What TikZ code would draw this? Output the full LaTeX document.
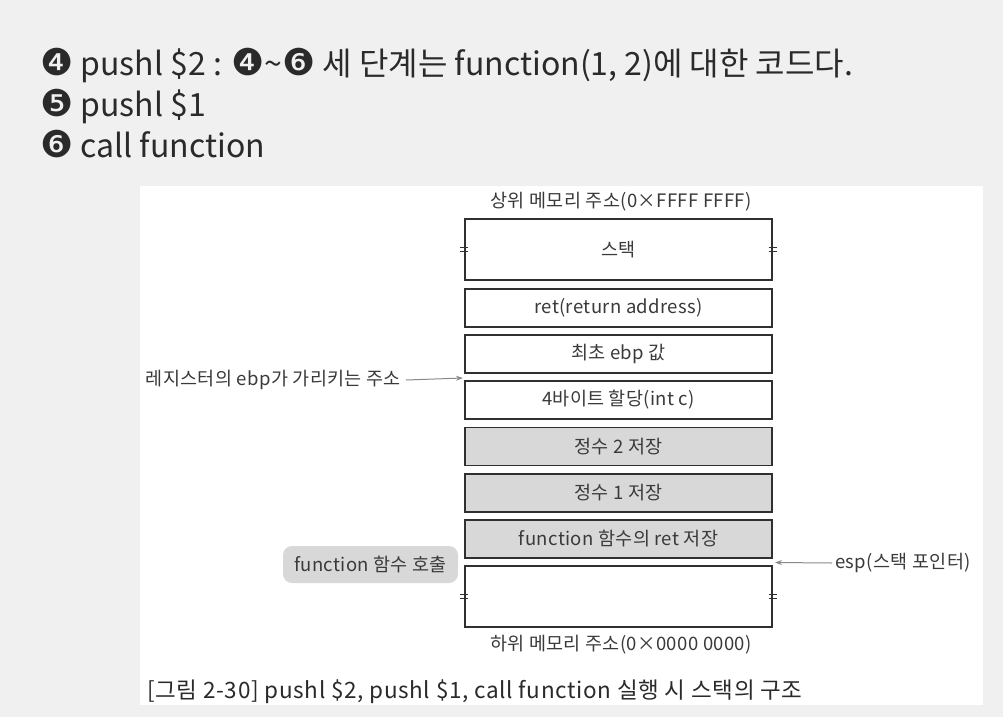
\documentclass[tikz,border=0pt]{standalone}
\usepackage{fontspec}
\setmainfont{Noto Sans CJK KR}
\newfontfamily\dingfont{DejaVu Sans}
\newcommand{\dg}[1]{{\dingfont\fontsize{37}{37}\selectfont\raisebox{-0.5pt}{#1}}}
\usetikzlibrary{arrows.meta}
\definecolor{bgc}{HTML}{F0F0F0}
\definecolor{txt}{HTML}{2A2A2A}
\definecolor{dtxt}{HTML}{3A3A3A}
\definecolor{bline}{HTML}{303030}
\definecolor{gfill}{HTML}{D8D8D8}
\definecolor{agray}{HTML}{8A8A8A}
\tikzset{
  stackbox/.style={draw=bline, line width=1.3pt, minimum width=307pt, minimum height=38pt, inner sep=0pt, text=dtxt, font=\fontsize{18.5}{20}\selectfont\addfontfeature{LetterSpace=2}},
  grayfill/.style={fill=gfill},
  tallbox/.style={minimum height=61pt},
  lbl/.style={text=dtxt, inner sep=0pt, font=\fontsize{18.5}{20}\selectfont\addfontfeature{LetterSpace=2}},
  topline/.style={anchor=base west, inner sep=0pt, text=txt, font=\fontsize{32}{36}\selectfont},
  brk/.style={draw=bline, line width=0.8pt},
  ptr/.style={draw=agray, line width=1pt, -{Stealth[length=7pt,width=5pt]}}
}
\begin{document}
\begin{tikzpicture}[x=1pt,y=-1pt]
\fill[bgc] (0,0) rectangle (1003,717);
\useasboundingbox (0,0) rectangle (1003,717);
\fill[white] (140,186) rectangle (983,705);
% top text
\node[topline] (l1) at (40,75) {\dg{❹} pushl \$2 : \dg{❹}\textasciitilde\dg{❻} 세 단계는 function(1, 2)에 대한 코드다.};
\node[topline] (l2) at (40,116) {\dg{❺} pushl \$1};
\node[topline] (l3) at (40,157) {\dg{❻} call function};
% stack
\node[stackbox,tallbox] (s1) at (618.5,249.5) {스택};
\node[stackbox] (s2) at (618.5,308) {ret(return address)};
\node[stackbox] (s3) at (618.5,354) {최초 ebp 값};
\node[stackbox] (s4) at (618.5,400) {4바이트 할당(int c)};
\node[stackbox,grayfill] (s5) at (618.5,446.5) {정수 2 저장};
\node[stackbox,grayfill] (s6) at (618.5,493) {정수 1 저장};
\node[stackbox,grayfill] (s7) at (618.5,539) {function 함수의 ret 저장};
\node[stackbox,tallbox] (s8) at (618.5,596.5) {};
% break ticks
\foreach \n in {s1,s8}{
  \foreach \a in {west,east}{
    \draw[brk] ([xshift=-4pt,yshift=2pt]\n.\a) -- ([xshift=4pt,yshift=2pt]\n.\a);
    \draw[brk] ([xshift=-4pt,yshift=-2pt]\n.\a) -- ([xshift=4pt,yshift=-2pt]\n.\a);
  }
}
% labels
\node[lbl] (top) at (621,202) {상위 메모리 주소(0×FFFF FFFF)};
\node[lbl] (bot) at (621,645) {하위 메모리 주소(0×0000 0000)};
\node[lbl,anchor=east] (ebp) at (401,380) {레지스터의 ebp가 가리키는 주소};
\coordinate (ebptip) at (463,378);
\draw[ptr] (ebp.east) ++(5,0) -- (ebptip);
\node[lbl,anchor=west] (esp) at (835,563) {esp(스택 포인터)};
\coordinate (esptip) at (775,562.5);
\draw[ptr] ([xshift=-3pt]esp.west) -- (esptip);
\node[lbl,fill=gfill,rounded corners=9pt,minimum width=175pt,minimum height=37pt] (call) at (370.5,564.5) {function 함수 호출};
% caption
\node[anchor=base west,inner sep=0pt,text=txt,font=\fontsize{22.5}{26}\selectfont\addfontfeature{LetterSpace=3}] (cap) at (147,698) {[그림 2-30] pushl \$2, pushl \$1, call function 실행 시 스택의 구조};
\end{tikzpicture}
\end{document}
